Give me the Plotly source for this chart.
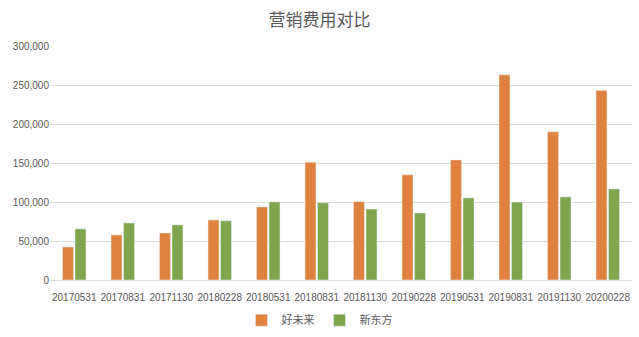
import plotly.graph_objects as go

categories = ["20170531", "20170831", "20171130", "20180228", "20180531", "20180831",
              "20181130", "20190228", "20190531", "20190831", "20191130", "20200228"]
tal = [42400, 57800, 60300, 77000, 93700, 151000, 100500, 134800, 154000, 263000, 190000, 243000]
edu = [65500, 73200, 70600, 76000, 100100, 99000, 91000, 86000, 105300, 100000, 106500, 116800]
y_ticks = [0, 50000, 100000, 150000, 200000, 250000, 300000]

fig = go.Figure()
fig.add_trace(go.Bar(name="好未来", x=categories, y=tal, marker_color="#E0823F"))
fig.add_trace(go.Bar(name="新东方", x=categories, y=edu, marker_color="#7FA64F"))

font_fam = "Liberation Sans, Noto Sans CJK SC, sans-serif"
fig.update_layout(
    width=639, height=337,
    margin=dict(l=50, r=7, t=46, b=57, autoexpand=False),
    paper_bgcolor="white", plot_bgcolor="white",
    barmode="group", bargap=0.485, bargroupgap=0.12,
    title=dict(text="营销费用对比", x=0.5, xanchor="center", y=0.94, yanchor="middle",
               font=dict(family="Noto Sans CJK SC, sans-serif", size=17, color="#595959")),
    font=dict(family=font_fam, size=10, color="#595959"),
    legend=dict(orientation="h", x=0.5, xanchor="center", xref="container",
                y=0.05, yanchor="middle", yref="container",
                font=dict(family="Noto Sans CJK SC, sans-serif", size=11, color="#595959"),
                itemwidth=30, tracegroupgap=0),
    showlegend=True,
)
fig.update_xaxes(showgrid=False, showline=True, linecolor="#D9D9D9", linewidth=1,
                 ticks="", ticklabelstandoff=8,
                 tickfont=dict(size=10, color="#595959"), tickangle=0)
fig.update_yaxes(range=[0, 300000], tickvals=y_ticks, tickformat=",", showgrid=True,
                 gridcolor="#D9D9D9", gridwidth=1, zeroline=False, showline=False,
                 tickfont=dict(size=10, color="#595959"), ticks="")

fig.write_html("out.html")
